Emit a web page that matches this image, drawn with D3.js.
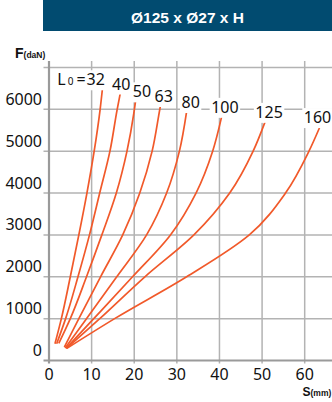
<!DOCTYPE html>
<html><head><meta charset="utf-8">
<script src="https://cdn.jsdelivr.net/npm/d3@7"></script>
<style>
html,body{margin:0;padding:0;background:#fff;}
svg{display:block;}
</style></head>
<body>
<svg id="c" width="332" height="402"></svg>
<script>
// ---- data ----
const title = "Ø125 x Ø27 x H";
const lengths = [32, 40, 50, 63, 80, 100, 125, 160];
const xTicks = [0, 10, 20, 30, 40, 50, 60];
const yTicks = [0, 1000, 2000, 3000, 4000, 5000, 6000, 7000];
const yTickLabels = ["0", "1000", "2000", "3000", "4000", "5000", "6000", ""];
// [stroke S (mm), force F (daN)]
const curve32  = [[1.4,400],[2.9,1000],[5.0,2000],[7.0,3000],[8.9,4000],[10.6,5000],[12.0,6000],[12.6,6550]];
const curve40  = [[1.8,400],[3.9,1000],[6.8,2000],[9.5,3000],[11.9,4000],[14.3,5000],[16.0,6000],[16.7,6370]];
const curve50  = [[2.3,410],[5.0,1000],[8.8,2000],[12.4,3000],[15.8,4000],[18.3,5000],[19.9,5900],[20.3,6190]];
const curve63  = [[3.6,320],[7.0,1000],[12.1,2000],[17.3,3000],[21.3,4000],[24.2,5000],[26.0,6000],[26.2,6110]];
const curve80  = [[3.8,300],[8.8,1000],[15.9,2000],[22.9,3000],[27.6,4000],[30.6,5000],[32.3,5950]];
const curve100 = [[4.0,290],[10.5,1000],[19.6,2000],[28.5,3000],[34.5,4000],[38.4,5000],[40.5,5820]];
const curve125 = [[4.1,290],[11.9,1000],[22.5,2000],[34.0,3000],[42.4,4000],[47.9,5000],[50.7,5700]];
const curve160 = [[4.2,290],[15.4,1000],[32.3,2000],[47.0,3000],[55.5,4000],[61.0,5000],[63.6,5590]];
const curves = [curve32, curve40, curve50, curve63, curve80, curve100, curve125, curve160];

// ---- layout / style ----
const labelDx = [-7, 1, 6.5, 3, 4, 3.3, 4, -2.5];
const labelDy = [-1, -4.3, -4, -2.7, -3.4, -4, -4, -3.4];
const curveColor = "#f1592a";
const gridColor = "#b3b3b3";
const axisColor = "#9a9a9a";
const numFont = "'Noto Sans', 'Open Sans', sans-serif";
const boldFont = "'Liberation Sans', Arial, sans-serif";

const svg = d3.select("#c");
const x = d3.scaleLinear().domain([0, 60]).range([49, 304.7]);
const y = d3.scaleLinear().domain([0, 6000]).range([360.5, 109.3]);
const xMax = x.invert(332);
const yTop = 61, yBot = 363.5;

// header
svg.append("rect").attr("x", 43).attr("y", 0).attr("width", 289).attr("height", 31).attr("fill", "#014b70");
svg.append("text").attr("x", 187.5).attr("y", 23.2).attr("text-anchor", "middle")
  .attr("fill", "#fff").attr("font-family", boldFont).attr("font-weight", "bold").attr("font-size", 15.5)
  .text(title);

// axis titles
const ft = svg.append("text").attr("x", 15).attr("y", 57.5).attr("font-family", boldFont).attr("font-weight", "bold").attr("fill", "#111");
ft.append("tspan").attr("font-size", 14).text("F");
ft.append("tspan").attr("font-size", 8.5).text("(daN)");
const st = svg.append("text").attr("x", 302.5).attr("y", 396).attr("font-family", boldFont).attr("font-weight", "bold").attr("fill", "#111");
st.append("tspan").attr("font-size", 12).text("S");
st.append("tspan").attr("font-size", 8.5).text("(mm)");

// grid
const g = svg.append("g");
g.selectAll(".vg").data(xTicks.filter(d => d !== 0)).enter().append("line")
  .attr("x1", d => x(d)).attr("x2", d => x(d)).attr("y1", yTop).attr("y2", yBot)
  .attr("stroke", gridColor).attr("stroke-width", 1.5);
g.selectAll(".hg").data(yTicks.filter(d => d !== 0)).enter().append("line")
  .attr("x1", 43.5).attr("x2", x(xMax)).attr("y1", d => y(d)).attr("y2", d => y(d))
  .attr("stroke", gridColor).attr("stroke-width", 1.5);
// axes
g.append("line").attr("x1", x(0)).attr("x2", x(0)).attr("y1", yTop).attr("y2", yBot)
  .attr("stroke", axisColor).attr("stroke-width", 2.2);
g.append("line").attr("x1", 43.5).attr("x2", x(xMax)).attr("y1", y(0)).attr("y2", y(0))
  .attr("stroke", axisColor).attr("stroke-width", 2.2);

// tick labels
svg.selectAll(".yl").data(yTicks).enter().append("text")
  .attr("x", 42).attr("y", d => y(d) - 4.5).attr("text-anchor", "end")
  .attr("font-family", numFont).attr("font-size", 16).attr("fill", "#111")
  .text((d, i) => yTickLabels[i]);
svg.selectAll(".xl").data(xTicks).enter().append("text")
  .attr("x", d => x(d)).attr("y", 380).attr("text-anchor", "middle")
  .attr("font-family", numFont).attr("font-size", 16).attr("fill", "#111")
  .text(d => d);

// curves
const line = d3.line().x(d => x(d[0])).y(d => y(d[1])).curve(d3.curveMonotoneY);
svg.selectAll(".crv").data(curves).enter().append("path")
  .attr("d", line).attr("fill", "none").attr("stroke", curveColor).attr("stroke-width", 1.7);

// curve labels with white boxes
const lab = svg.append("g");
curves.forEach((c, i) => {
  const e = c[c.length - 1];
  const grp = lab.append("g");
  const t = grp.append("text")
    .attr("x", x(e[0]) + labelDx[i]).attr("y", y(e[1]) + labelDy[i])
    .attr("text-anchor", "middle").attr("font-family", numFont).attr("font-size", 16).attr("fill", "#111")
    .text(lengths[i]);
  const b = t.node().getBBox();
  grp.insert("rect", "text").attr("x", b.x - 1.5).attr("y", b.y + 2).attr("width", b.width + 3).attr("height", b.height - 2)
    .attr("fill", "#fff");
  if (i === 0) {
    const p = grp.append("text").attr("x", b.x - 1).attr("y", y(e[1]) + labelDy[i])
      .attr("text-anchor", "end").attr("font-family", numFont).attr("fill", "#111");
    p.append("tspan").attr("font-size", 16).text("L");
    p.append("tspan").attr("font-size", 10).attr("dx", 2).text("0");
    p.append("tspan").attr("font-size", 16).attr("dx", 3).text("=");
    const pb = p.node().getBBox();
    grp.insert("rect", "text").attr("x", pb.x - 1).attr("y", pb.y + 2).attr("width", pb.width + 2).attr("height", pb.height - 2)
      .attr("fill", "#fff");
  }
});
</script>
</body></html>
